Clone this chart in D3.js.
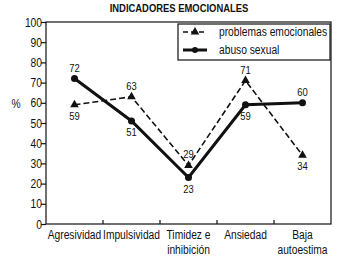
<!DOCTYPE html>
<html><head><meta charset="utf-8">
<script src="https://cdn.jsdelivr.net/npm/d3@7"></script>
<style>
body{margin:0;background:#fff;}
text{font-family:"Liberation Sans",Arial,sans-serif;fill:#111;}
</style></head><body>
<svg id="c" width="349" height="265"></svg>
<script>
const categories = ["Agresividad","Impulsividad","Timidez e\ninhibición","Ansiedad","Baja\nautoestima"];
const problemasEmocionales = [59,63,29,71,34];
const abusoSexual = [72,51,23,59,60];
const yTicks = [0,10,20,30,40,50,60,70,80,90,100];
const seriesNames = ["problemas emocionales","abuso sexual"];

const svg = d3.select("#c");
const L=46,R=331,T=22,B=224;
const SX=0.82; // narrow-font emulation
const x = d3.scaleBand().domain(categories).range([L,R]);
const y = d3.scaleLinear().domain([0,100]).range([B,T]);
const cx = d => x(d)+x.bandwidth()/2;

function txt(parent, px, py, str, size, anchor, bold){
  const t = parent.append("text").attr("transform",`translate(${px},${py}) scale(${SX},1)`)
    .attr("font-size",size).attr("text-anchor",anchor||"start");
  if(bold) t.attr("font-weight","bold");
  str.split("\n").forEach((s,i)=>t.append("tspan").attr("x",0).attr("dy",i?15:0).text(s));
  return t;
}

txt(svg,179,12,"INDICADORES EMOCIONALES",11.5,"middle",true);

// frame
svg.append("rect").attr("x",L).attr("y",T).attr("width",R-L).attr("height",B-T)
  .attr("fill","none").attr("stroke","#111").attr("stroke-width",1.2);

// y axis
const ya = svg.append("g").attr("transform",`translate(${L},0)`)
  .call(d3.axisLeft(y).tickValues(yTicks).tickSize(5).tickFormat(""));
ya.select(".domain").remove();
ya.selectAll("line").attr("stroke","#111").attr("stroke-width",1.2);
yTicks.forEach(v=>txt(svg,42,y(v)+4.5,String(v),12.5,"end"));

txt(svg,16,108,"%",12.5,"middle");

// x ticks inward between categories
svg.append("g").selectAll("line").data(categories.slice(1)).join("line")
  .attr("x1",d=>x(d)).attr("x2",d=>x(d)).attr("y1",B).attr("y2",B-4)
  .attr("stroke","#111").attr("stroke-width",1.2);

// x labels
categories.forEach(c=>txt(svg,cx(c),239,c,12.5,"middle"));

// lines
const line = vals => d3.line().x((v,i)=>cx(categories[i])).y(v=>y(v))(vals);
svg.append("path").attr("d",line(problemasEmocionales)).attr("fill","none")
  .attr("stroke","#111").attr("stroke-width",1.6).attr("stroke-dasharray","6,3");
svg.append("path").attr("d",line(abusoSexual)).attr("fill","none")
  .attr("stroke","#111").attr("stroke-width",3);

const tri = d3.symbol().type(d3.symbolTriangle).size(32);
svg.append("g").selectAll("path").data(problemasEmocionales).join("path")
  .attr("d",tri).attr("transform",(v,i)=>`translate(${cx(categories[i])},${y(v)})`).attr("fill","#111");
svg.append("g").selectAll("circle").data(abusoSexual).join("circle")
  .attr("cx",(v,i)=>cx(categories[i])).attr("cy",v=>y(v)).attr("r",3.5).attr("fill","#111");

// value labels
function labels(vals, other){
  const g = svg.append("g");
  vals.forEach((v,i)=>txt(g,cx(categories[i]), v>=other[i] ? y(v)-7 : y(v)+15, String(v),11.5,"middle"));
}
labels(problemasEmocionales, abusoSexual);
labels(abusoSexual, problemasEmocionales);

// legend
const lg = svg.append("g");
lg.append("rect").attr("x",178).attr("y",24).attr("width",152).attr("height",36)
  .attr("fill","#fff").attr("stroke","#111").attr("stroke-width",1.2);
lg.append("line").attr("x1",183).attr("x2",207).attr("y1",32).attr("y2",32)
  .attr("stroke","#111").attr("stroke-width",1.6).attr("stroke-dasharray","5,3");
lg.append("path").attr("d",tri).attr("transform","translate(195,32)").attr("fill","#111");
lg.append("line").attr("x1",183).attr("x2",207).attr("y1",50).attr("y2",50)
  .attr("stroke","#111").attr("stroke-width",3);
lg.append("circle").attr("cx",195).attr("cy",50).attr("r",3).attr("fill","#111");
seriesNames.forEach((d,i)=>txt(lg,219,36+i*18,d,12.5,"start"));
</script>
</body></html>
